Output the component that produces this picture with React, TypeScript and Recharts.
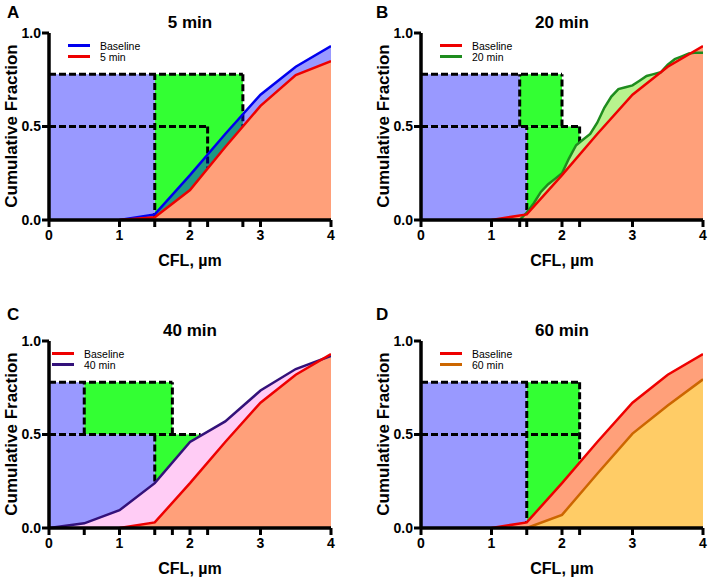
import React from 'react'
import {
  ComposedChart,
  Area,
  Line,
  XAxis,
  YAxis,
  ReferenceArea,
  ReferenceLine,
} from 'recharts'

// CFL (µm) -> cumulative fraction
const baseX = [1, 1.5, 2, 2.5, 3, 3.5, 4]
const baseline = [0, 0.03, 0.24, 0.46, 0.67, 0.82, 0.93]

const min5X = [1, 1.5, 2, 2.5, 3, 3.5, 4]
const min5 = [0, 0.015, 0.16, 0.39, 0.61, 0.775, 0.85]

const min20X = [
  1.2, 1.3, 1.4, 1.5, 1.6, 1.7, 1.8, 1.9, 2.0, 2.1, 2.2, 2.3, 2.4, 2.5, 2.6,
  2.7, 2.8, 2.9, 3.0, 3.1, 3.2, 3.3, 3.4, 3.5, 3.6, 3.7, 3.8, 3.9, 4.0,
]
const min20 = [
  0, 0, 0, 0.04, 0.09, 0.15, 0.19, 0.22, 0.25, 0.33, 0.4, 0.43, 0.46, 0.52, 0.6,
  0.66, 0.7, 0.71, 0.72, 0.745, 0.77, 0.78, 0.79, 0.83, 0.86, 0.875, 0.89, 0.895, 0.895,
]

const min40X = [0, 0.5, 1, 1.5, 2, 2.5, 3, 3.5, 4]
const min40 = [0, 0.025, 0.095, 0.24, 0.46, 0.57, 0.735, 0.85, 0.92]

const min60X = [1.5, 2, 2.5, 3, 3.5, 4]
const min60 = [0, 0.07, 0.29, 0.505, 0.655, 0.795]

const yTicks = [0, 0.5, 1]
const ticksA = [0, 1, 1.5, 2, 2.25, 2.75, 3, 4]
const ticksB = [0, 1, 1.4, 1.5, 2, 2.25, 3, 4]
const ticksC = [0, 0.5, 1, 1.5, 1.75, 2, 2.25, 3, 4]
const ticksD = [0, 1, 1.5, 2, 2.25, 3, 4]

// percentile boxes (x1, x2, y1, y2): 'pre' = lavender, 'post' = green
type Box = { x1: number; x2: number; y1: number; y2: number; kind: 'pre' | 'post' }
const boxesA: Box[] = [
  { x1: 1.5, x2: 2.75, y1: 0, y2: 0.78, kind: 'post' },
  { x1: 0, x2: 1.5, y1: 0, y2: 0.78, kind: 'pre' },
]
const boxesB: Box[] = [
  { x1: 1.4, x2: 2.0, y1: 0.5, y2: 0.78, kind: 'post' },
  { x1: 1.5, x2: 2.25, y1: 0, y2: 0.5, kind: 'post' },
  { x1: 0, x2: 1.4, y1: 0.5, y2: 0.78, kind: 'pre' },
  { x1: 0, x2: 1.5, y1: 0, y2: 0.5, kind: 'pre' },
]
const boxesC: Box[] = [
  { x1: 0.5, x2: 1.75, y1: 0.5, y2: 0.78, kind: 'post' },
  { x1: 1.5, x2: 2.25, y1: 0, y2: 0.5, kind: 'post' },
  { x1: 0, x2: 0.5, y1: 0.5, y2: 0.78, kind: 'pre' },
  { x1: 0, x2: 1.5, y1: 0, y2: 0.5, kind: 'pre' },
]
const boxesD: Box[] = [
  { x1: 1.5, x2: 2.25, y1: 0, y2: 0.78, kind: 'post' },
  { x1: 0, x2: 1.5, y1: 0, y2: 0.78, kind: 'pre' },
]

// dashed guide segments [x1, y1, x2, y2]
const dashA = [
  [0, 0.78, 2.75, 0.78],
  [0, 0.5, 2.25, 0.5],
  [1.5, 0, 1.5, 0.78],
  [2.25, 0.5, 2.25, 0.28],
  [2.75, 0.78, 2.75, 0.5],
]
const dashB = [
  [0, 0.78, 2.0, 0.78],
  [0, 0.5, 2.25, 0.5],
  [1.4, 0.5, 1.4, 0.78],
  [2.0, 0.5, 2.0, 0.78],
  [1.5, 0, 1.5, 0.5],
  [2.25, 0.5, 2.25, 0.41],
]
const dashC = [
  [0, 0.78, 1.75, 0.78],
  [0, 0.5, 2.15, 0.5],
  [0.5, 0.5, 0.5, 0.78],
  [1.75, 0.5, 1.75, 0.78],
  [1.5, 0.5, 1.5, 0.24],
]
const dashD = [
  [0, 0.78, 2.25, 0.78],
  [0, 0.5, 2.25, 0.5],
  [1.5, 0, 1.5, 0.78],
  [2.25, 0.78, 2.25, 0.35],
]

const font = "'Liberation Sans', Arial, sans-serif"
const PRE = '#9999ff'
const POST = '#33ff33'

type Series = {
  key: string
  name: string
  xs: number[]
  ys: number[]
  line: string
  fill: string
  fillOpacity: number
}

function merge(series: Series[]) {
  const xs = Array.from(new Set(series.flatMap((s) => s.xs))).sort((a, b) => a - b)
  return xs.map((x) => {
    const row: Record<string, number | null> = { x }
    series.forEach((s) => {
      const i = s.xs.indexOf(x)
      row[s.key] = i >= 0 ? s.ys[i] : null
    })
    return row
  })
}

const axisLine = { stroke: '#000', strokeWidth: 3.5 }
const tickLine = { stroke: '#000', strokeWidth: 3 }
const tickStyle = { fill: '#000', fontSize: 14, fontWeight: 700, fontFamily: font }

function Panel(props: {
  left: number
  top: number
  title: string
  areas: Series[] // drawn in order
  legend: Series[]
  legendX: number
  ticks: number[]
  boxes: Box[]
  dashes: number[][]
}) {
  const { left, top, title, areas, legend, legendX, ticks, boxes, dashes } = props
  const rows = merge(areas)
  return (
    <div style={{ position: 'absolute', left, top, width: 336, height: 273 }}>
      <ComposedChart width={336} height={273} data={rows} margin={{ top: 33, right: 5, left: 0, bottom: 0 }}>
        <XAxis
          dataKey="x"
          type="number"
          domain={[0, 4]}
          ticks={ticks}
          interval={0}
          tickFormatter={(v) => (Number.isInteger(v) ? String(v) : '')}
          height={53}
          axisLine={axisLine}
          tickLine={tickLine}
          tickSize={7}
          tickMargin={3}
          tick={tickStyle}
          allowDataOverflow
        />
        <YAxis
          type="number"
          domain={[0, 1]}
          ticks={yTicks}
          interval={0}
          tickFormatter={(v) => v.toFixed(1)}
          width={49}
          axisLine={axisLine}
          tickLine={tickLine}
          tickSize={7}
          tickMargin={1}
          tick={tickStyle}
          allowDataOverflow
        />
        {boxes.map((b, i) => (
          <ReferenceArea
            key={'b' + i}
            x1={b.x1}
            x2={b.x2}
            y1={b.y1}
            y2={b.y2}
            fill={b.kind === 'pre' ? PRE : POST}
            fillOpacity={1}
            stroke="none"
            zIndex={50}
          />
        ))}
        {dashes.map((d, i) => (
          <ReferenceLine
            key={'d' + i}
            segment={[
              { x: d[0], y: d[1] },
              { x: d[2], y: d[3] },
            ]}
            stroke="#000"
            strokeWidth={3}
            strokeDasharray="7 3"
            zIndex={60}
          />
        ))}
        {areas.map((s) => (
          <Area
            key={'a' + s.key}
            dataKey={s.key}
            type="linear"
            stroke="none"
            fill={s.fill}
            fillOpacity={s.fillOpacity}
            connectNulls
            dot={false}
            activeDot={false}
            isAnimationActive={false}
          />
        ))}
        {areas.map((s) => (
          <Line
            key={'l' + s.key}
            dataKey={s.key}
            type="linear"
            stroke={s.line}
            strokeWidth={2.5}
            connectNulls
            dot={false}
            activeDot={false}
            isAnimationActive={false}
          />
        ))}
      </ComposedChart>
      <div style={{ position: 'absolute', left: 0, width: 380, top: 13, textAlign: 'center', fontFamily: font, fontWeight: 700, fontSize: 17, lineHeight: '20px' }}>
        {title}
      </div>
      <div
        style={{
          position: 'absolute',
          left: 12 - 90,
          width: 180,
          top: 126 - 10,
          textAlign: 'center',
          transform: 'rotate(-90deg)',
          fontFamily: font,
          fontWeight: 700,
          fontSize: 17,
          lineHeight: '20px',
        }}
      >
        Cumulative Fraction
      </div>
      <div style={{ position: 'absolute', left: 100, width: 180, top: 251, textAlign: 'center', fontFamily: font, fontWeight: 700, fontSize: 16, lineHeight: '20px' }}>
        CFL, µm
      </div>
      {legend.map((s, i) => (
        <div key={s.key} style={{ position: 'absolute', left: legendX, top: 40 + i * 11, height: 11, display: 'flex', alignItems: 'center', fontFamily: font, fontSize: 10.5 }}>
          <div style={{ width: 22, height: 3, background: s.line, marginRight: 10 }} />
          <span>{s.name}</span>
        </div>
      ))}
    </div>
  )
}

const orange = '#ffa07a'
const baseRed = (fill: string): Series => ({ key: 'base', name: 'Baseline', xs: baseX, ys: baseline, line: '#ee0000', fill, fillOpacity: 1 })

const sA_base: Series = { key: 'base', name: 'Baseline', xs: baseX, ys: baseline, line: '#0000ee', fill: '#0000ff', fillOpacity: 0.4 }
const sA_5: Series = { key: 'm5', name: '5 min', xs: min5X, ys: min5, line: '#ee0000', fill: orange, fillOpacity: 1 }
const sB_20: Series = { key: 'm20', name: '20 min', xs: min20X, ys: min20, line: '#1e8c1e', fill: '#b8f28e', fillOpacity: 1 }
const sC_40: Series = { key: 'm40', name: '40 min', xs: min40X, ys: min40, line: '#33117a', fill: '#ffccf5', fillOpacity: 1 }
const sD_60: Series = { key: 'm60', name: '60 min', xs: min60X, ys: min60, line: '#cc6600', fill: '#ffcc66', fillOpacity: 1 }

const letters = [
  { t: 'A', x: 7, y: 3 },
  { t: 'B', x: 376, y: 3 },
  { t: 'C', x: 7, y: 305 },
  { t: 'D', x: 376, y: 305 },
]

export default function App() {
  const red = baseRed(orange)
  return (
    <div style={{ position: 'absolute', left: 0, top: 0, width: 708, height: 581, overflow: 'hidden', background: '#fff' }}>
      <Panel left={0} top={0} title="5 min" areas={[sA_base, sA_5]} legend={[sA_base, sA_5]} legendX={68} ticks={ticksA} boxes={boxesA} dashes={dashA} />
      <Panel left={372} top={0} title="20 min" areas={[sB_20, red]} legend={[red, sB_20]} legendX={68} ticks={ticksB} boxes={boxesB} dashes={dashB} />
      <Panel left={0} top={308} title="40 min" areas={[sC_40, red]} legend={[red, sC_40]} legendX={52} ticks={ticksC} boxes={boxesC} dashes={dashC} />
      <Panel left={372} top={308} title="60 min" areas={[red, sD_60]} legend={[red, sD_60]} legendX={68} ticks={ticksD} boxes={boxesD} dashes={dashD} />
      {letters.map((l) => (
        <div key={l.t} style={{ position: 'absolute', left: l.x, top: l.y, fontFamily: font, fontWeight: 700, fontSize: 17, lineHeight: '20px' }}>
          {l.t}
        </div>
      ))}
    </div>
  )
}
